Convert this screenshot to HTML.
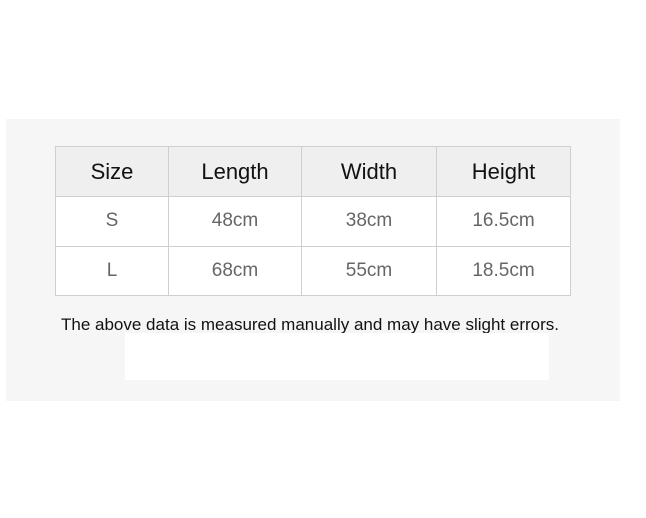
<!DOCTYPE html>
<html><head><meta charset="utf-8"><style>
body{margin:0;width:646px;height:518px;background:#fff;position:relative;overflow:hidden;font-family:"Liberation Sans",sans-serif}
#panel{position:absolute;left:6px;top:119px;width:614px;height:282px;background:#f6f6f6}
table{position:absolute;left:55px;top:146px;border-collapse:collapse;background:#fff}
td{border:1px solid #cfcfcf;text-align:center;padding:0}
tr.h td{background:#efefef;color:#111;font-size:22px;height:49px}
tr.b td{color:#666;font-size:19px;height:48.5px}
#note{position:absolute;left:61px;top:315px;font-size:17px;color:#111}
#white{position:absolute;left:125px;top:333px;width:424px;height:47px;background:#fff}
</style></head><body>
<div id="panel"></div>
<table>
<tr class="h"><td style="width:112px">Size</td><td style="width:132px">Length</td><td style="width:134px">Width</td><td style="width:133px">Height</td></tr>
<tr class="b"><td>S</td><td>48cm</td><td>38cm</td><td>16.5cm</td></tr>
<tr class="b"><td>L</td><td>68cm</td><td>55cm</td><td>18.5cm</td></tr>
</table>
<div id="note">The above data is measured manually and may have slight errors.</div>
<div id="white"></div>
</body></html>
